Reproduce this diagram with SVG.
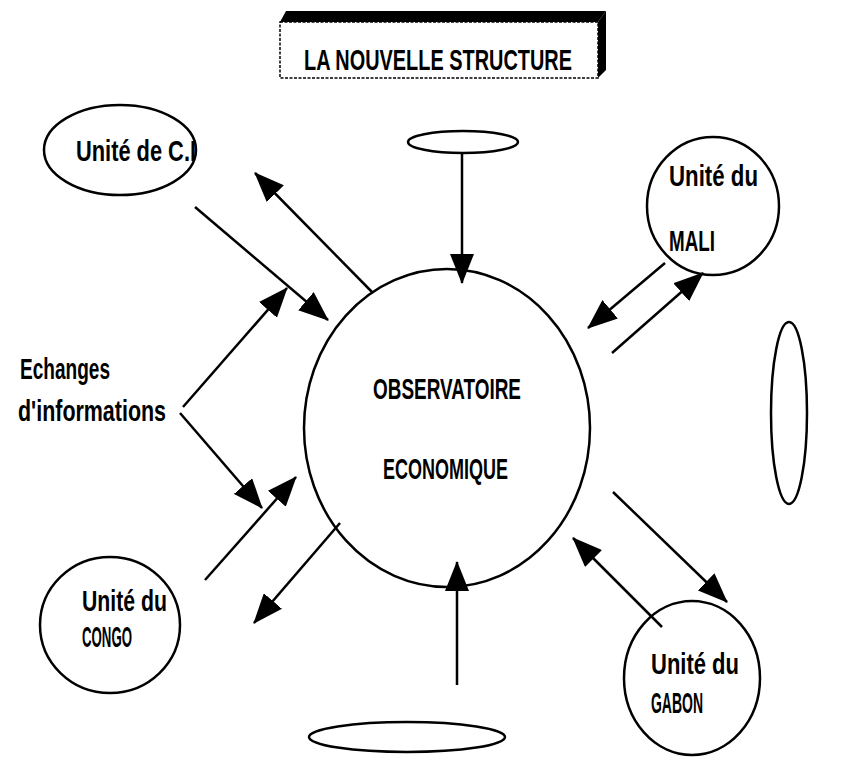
<svg xmlns="http://www.w3.org/2000/svg" width="844" height="773" viewBox="0 0 844 773">
<style>
.n{fill:none;stroke:#000;stroke-width:2.5}
.c{stroke:#000;stroke-width:2.5;fill:none}
.t{font-family:"Liberation Sans Narrow","Liberation Sans",Arial,sans-serif;font-weight:bold;font-size:30px;fill:#000}
</style>
<defs>
<marker id="ah" viewBox="0 0 30 24" refX="29" refY="12" markerWidth="30" markerHeight="24" markerUnits="userSpaceOnUse" orient="auto">
<path d="M0,0 L30,12 L0,24 z" fill="#000"/>
</marker>
</defs>
<rect width="844" height="773" fill="#fff"/>
<g id="title">
<rect x="280" y="22" width="318" height="56" fill="#fff" stroke="#000" stroke-width="1.5" stroke-dasharray="3,1.5"/>
<polygon points="280,22 286,11 606,11 598,22" fill="#000"/>
<polygon points="598,22 606,11 606,70 598,78" fill="#000"/>
<text class="t" x="304" y="70" font-size="33" textLength="268" lengthAdjust="spacingAndGlyphs">LA NOUVELLE STRUCTURE</text>
</g>
<g id="unite-ci">
<ellipse class="n" cx="120" cy="150" rx="76" ry="45"/>
<text class="t" x="76" y="161" textLength="120" lengthAdjust="spacingAndGlyphs">Unité de C.I</text>
</g>
<g id="top-ellipse">
<ellipse class="n" cx="463" cy="142" rx="55" ry="11"/>
</g>
<g id="unite-mali">
<ellipse class="n" cx="713" cy="206" rx="66" ry="69"/>
<text class="t" x="669" y="186" textLength="89" lengthAdjust="spacingAndGlyphs">Unité du</text>
<text class="t" x="669" y="251" textLength="46" lengthAdjust="spacingAndGlyphs">MALI</text>
</g>
<g id="observatoire">
<ellipse class="n" cx="447" cy="428" rx="143" ry="159"/>
<text class="t" x="373" y="399" textLength="148" lengthAdjust="spacingAndGlyphs">OBSERVATOIRE</text>
<text class="t" x="383" y="479" textLength="125" lengthAdjust="spacingAndGlyphs">ECONOMIQUE</text>
</g>
<g id="right-ellipse">
<ellipse class="n" cx="789" cy="413" rx="18" ry="91"/>
</g>
<g id="echanges">
<text class="t" x="20" y="379" textLength="90" lengthAdjust="spacingAndGlyphs">Echanges</text>
<text class="t" x="18" y="421" textLength="148" lengthAdjust="spacingAndGlyphs">d'informations</text>
</g>
<g id="unite-congo">
<ellipse class="n" cx="110" cy="625" rx="70" ry="68"/>
<text class="t" x="82" y="611" textLength="85" lengthAdjust="spacingAndGlyphs">Unité du</text>
<text class="t" x="82" y="647" textLength="50" lengthAdjust="spacingAndGlyphs">CONGO</text>
</g>
<g id="unite-gabon">
<ellipse class="n" cx="692" cy="678" rx="68" ry="77"/>
<text class="t" x="651" y="674" textLength="88" lengthAdjust="spacingAndGlyphs">Unité du</text>
<text class="t" x="651" y="713" textLength="52" lengthAdjust="spacingAndGlyphs">GABON</text>
</g>
<g id="bottom-ellipse">
<ellipse class="n" cx="407" cy="737" rx="98" ry="15"/>
</g>
<g id="connectors">
<line class="c" x1="373" y1="293" x2="255" y2="173" marker-end="url(#ah)"/>
<line class="c" x1="195" y1="207" x2="328" y2="320" marker-end="url(#ah)"/>
<line class="c" x1="183" y1="407" x2="287" y2="288" marker-end="url(#ah)"/>
<line class="c" x1="180" y1="413" x2="262" y2="508" marker-end="url(#ah)"/>
<line class="c" x1="205" y1="580" x2="296" y2="477" marker-end="url(#ah)"/>
<line class="c" x1="340" y1="523" x2="254" y2="623" marker-end="url(#ah)"/>
<line class="c" x1="462" y1="153" x2="462" y2="283" marker-end="url(#ah)"/>
<line class="c" x1="457" y1="685" x2="457" y2="562" marker-end="url(#ah)"/>
<line class="c" x1="665" y1="263" x2="588" y2="328" marker-end="url(#ah)"/>
<line class="c" x1="612" y1="353" x2="703" y2="273" marker-end="url(#ah)"/>
<line class="c" x1="613" y1="492" x2="727" y2="602" marker-end="url(#ah)"/>
<line class="c" x1="662" y1="627" x2="573" y2="538" marker-end="url(#ah)"/>
</g>
</svg>
